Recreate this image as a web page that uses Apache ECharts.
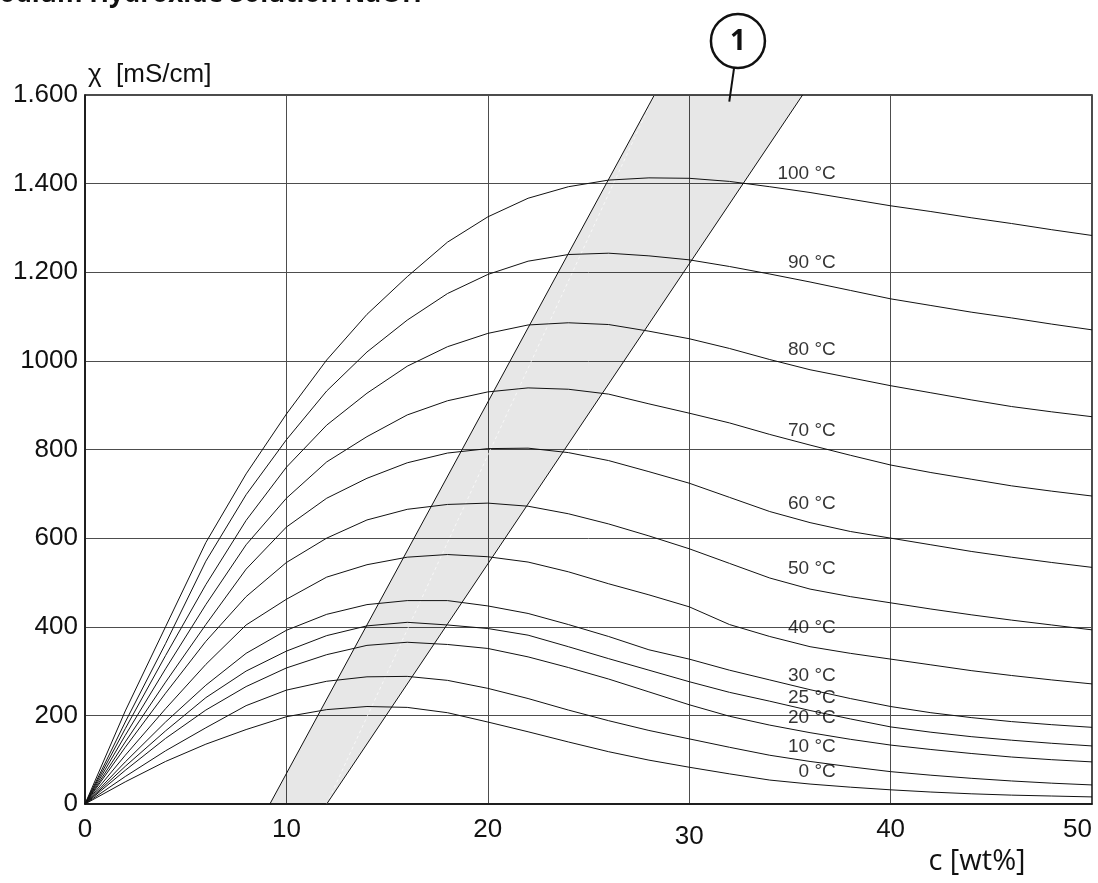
<!DOCTYPE html>
<html>
<head>
<meta charset="utf-8">
<script src="https://cdn.jsdelivr.net/npm/echarts@6/dist/echarts.min.js"></script>
<style>
html,body{margin:0;padding:0;background:#fff;}
#chart{width:1098px;height:883px;}
</style>
</head>
<body>
<div id="chart"></div>
<script>
// ---- data ----
const conc = [0,2,4,6,8,10,12,14,16,18,20,22,24,26,28,30,32,34,36,38,40,42,44,46,48,50];
const temps = ['100 °C','90 °C','80 °C','70 °C','60 °C','50 °C','40 °C','30 °C','25 °C','20 °C','10 °C','0 °C'];
const t100 = [0,210,400,590,745,880,1002,1105,1190,1268,1325,1367,1393,1408,1413,1412,1405,1393,1380,1365,1350,1337,1323,1310,1296,1283];
const t90  = [0,185,362,548,698,822,932,1020,1092,1152,1195,1225,1240,1243,1237,1228,1213,1196,1178,1159,1140,1125,1110,1097,1083,1070];
const t80  = [0,170,335,495,640,760,855,927,988,1032,1062,1081,1086,1082,1067,1050,1028,1003,980,962,944,928,912,897,885,874];
const t70  = [0,155,305,450,585,690,772,829,878,910,930,939,936,925,903,882,860,834,810,787,765,748,733,718,706,695];
const t60  = [0,140,275,405,530,625,690,735,770,792,802,803,793,775,750,724,692,660,635,615,600,585,570,557,545,534];
const t50  = [0,128,250,367,468,545,600,641,665,676,679,672,655,632,605,576,543,510,485,468,454,440,427,415,404,393];
const t40  = [0,110,215,315,404,462,512,540,557,563,558,546,524,497,472,445,405,378,355,340,327,314,301,290,280,271];
const t30  = [0,95,185,268,340,392,428,450,459,459,447,430,405,378,348,327,302,280,258,238,220,206,195,186,179,173];
const t25  = [0,85,165,240,300,345,380,402,410,404,396,381,355,328,302,276,252,232,211,192,174,162,152,144,137,131];
const t20  = [0,76,148,212,265,307,337,358,365,360,351,332,308,282,253,224,198,178,161,146,133,123,114,106,100,95];
const t10  = [0,62,120,172,222,257,277,287,288,279,261,238,212,188,166,147,128,110,96,84,73,65,58,52,47,43];
const t0   = [0,50,96,135,168,197,213,220,218,206,185,163,140,118,99,83,68,54,45,38,32,27,23,20,18,16];
const curves = [t100,t90,t80,t70,t60,t50,t40,t30,t25,t20,t10,t0];
// curve label anchors (right end of each label) [c, value]
const labelC = 37.3;
const labelVals = [1422,1221,1025,842,677,530,397,289,239,194,129,72];
// band (range 1) corners [c, value]
const bandLeft  = [[9.18,0],[28.27,1600]];
const bandRight = [[12.0,0],[35.63,1600]];
// annotation: tip of leader line and circle center [c, value]
const annotTip = [31.99,1585];
const annotCenter = [32.42,1722];
const annotText = '1';
// tick labels
const xTickLabels = ['0','10','20','30','40','50'];
const yTickLabels = ['0','200','400','600','800','1000','1.200','1.400','1.600'];
const title = 'Sodium Hydroxide Solution NaOH';
const yName = 'χ  [mS/cm]';
const xName = 'c [wt%]';

// ---- chart ----
const chart = echarts.init(document.getElementById('chart'), null, {renderer:'canvas'});
const ink = '#111';
const axisFont = 'Liberation Sans';

const series = [];
series.push({
  type:'custom', z:1, silent:true,
  data:[[0]],
  renderItem:function(params, api){
    const a = api.coord(bandLeft[0]), b = api.coord(bandLeft[1]);
    const c = api.coord(bandRight[1]), d = api.coord(bandRight[0]);
    return {type:'group', children:[
      {type:'polygon', shape:{points:[a,b,c,d]}, style:{fill:'rgba(0,0,0,0.095)', stroke:null}},
      {type:'line', shape:{x1:d[0],y1:d[1],x2:b[0],y2:b[1]}, style:{stroke:'rgba(255,255,255,0.85)', lineWidth:0.8, lineDash:[3,3]}},
      {type:'line', shape:{x1:a[0],y1:a[1],x2:b[0],y2:b[1]}, style:{stroke:ink, lineWidth:1}},
      {type:'line', shape:{x1:d[0],y1:d[1],x2:c[0],y2:c[1]}, style:{stroke:ink, lineWidth:1}}
    ]};
  }
});
curves.forEach(function(vals, i){
  series.push({
    type:'line', name:temps[i], z:3, silent:true,
    data: conc.map(function(c, j){ return [c, vals[j]]; }),
    showSymbol:false, smooth:false,
    lineStyle:{color:ink, width:1}
  });
});
series.push({
  type:'scatter', z:4, silent:true, symbolSize:1,
  itemStyle:{color:'rgba(0,0,0,0)'},
  data: labelVals.map(function(v, i){ return [labelC, v, temps[i]]; }),
  label:{show:true, position:'left', distance:0, formatter:function(p){return p.data[2];},
         fontSize:19, color:'#000', fontFamily:axisFont}
});

const option = {
  animation:false,
  backgroundColor:'#fff',
  grid:{left:85, right:6, top:95, bottom:79, show:true, borderColor:ink, borderWidth:1.5, outerBoundsMode:'none', containLabel:false},
  xAxis:{
    type:'value', min:0, max:50, interval:10,
    axisLine:{show:true, lineStyle:{color:ink, width:1.5}},
    axisTick:{show:false},
    splitLine:{show:true, lineStyle:{color:'#4d4d4d', width:1}},
    axisLabel:{fontSize:26, color:ink, fontFamily:axisFont, margin:13, alignMaxLabel:'right',
      formatter:function(v){ const s = xTickLabels[Math.round(v/10)]; return v===30 ? '{lo|'+s+'}' : s; },
      rich:{lo:{fontSize:26, color:ink, fontFamily:axisFont, padding:[7,0,0,0]}}
    }
  },
  yAxis:{
    type:'value', min:0, max:1600, interval:200,
    name:yName, nameLocation:'end', nameGap:7,
    nameTextStyle:{fontSize:26, color:ink, fontFamily:axisFont, align:'left', verticalAlign:'bottom', padding:[0,0,0,3]},
    axisLine:{show:true, lineStyle:{color:ink, width:1.5}},
    axisTick:{show:false},
    splitLine:{show:true, lineStyle:{color:'#4d4d4d', width:1}},
    axisLabel:{fontSize:26, color:ink, fontFamily:axisFont, margin:7,
      formatter:function(v){ return yTickLabels[Math.round(v/200)]; }}
  },
  series:series
};
chart.setOption(option);

// annotations positioned through the axes
const tip = chart.convertToPixel({gridIndex:0}, annotTip);
const cen = chart.convertToPixel({gridIndex:0}, annotCenter);
const r = 27;
const dx = tip[0]-cen[0], dy = tip[1]-cen[1], dl = Math.sqrt(dx*dx+dy*dy);
const start = [cen[0]+dx/dl*r, cen[1]+dy/dl*r];
chart.setOption({
  graphic:[
    {type:'text', x:-15, y:-18, style:{text:title, font:'bold 26px "Open Sans"', fill:ink, textVerticalAlign:'top'}},
    {type:'text', x:977, y:862, style:{text:xName, font:'29px "Open Sans"', fill:ink, textAlign:'center', textVerticalAlign:'middle'}},
    {type:'line', shape:{x1:start[0], y1:start[1], x2:tip[0], y2:tip[1]}, style:{stroke:ink, lineWidth:2}},
    {type:'circle', shape:{cx:cen[0], cy:cen[1], r:r}, style:{fill:'#fff', stroke:ink, lineWidth:2.5}},
    {type:'text', x:cen[0], y:cen[1]+1, style:{text:annotText, font:'bold 28px "Open Sans"', fill:ink, textAlign:'center', textVerticalAlign:'middle'}}
  ]
});
</script>
</body>
</html>
